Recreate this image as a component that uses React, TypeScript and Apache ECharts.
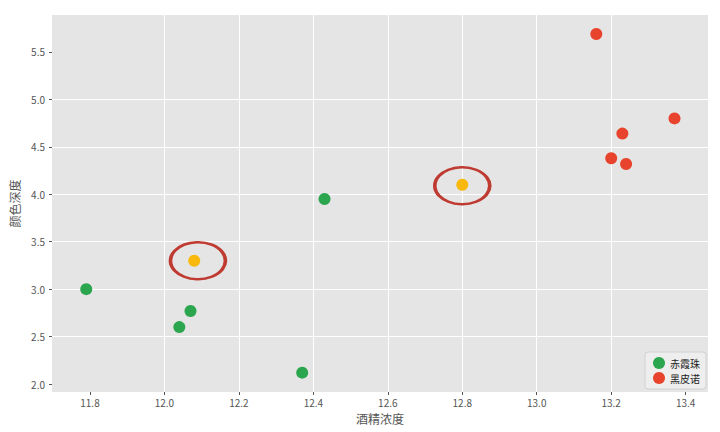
import React, { useEffect, useRef } from "react";
import * as echarts from "echarts";

const seriesNames = ["赤霞珠", "黑皮诺"];
const cabernetX = [11.79, 12.04, 12.07, 12.37, 12.43];
const cabernetY = [3.0, 2.6, 2.77, 2.12, 3.95];
const pinotX = [13.16, 13.23, 13.2, 13.24, 13.37];
const pinotY = [5.69, 4.64, 4.38, 4.32, 4.8];
const unknownX = [12.08, 12.8];
const unknownY = [3.3, 4.1];
const ringX = [12.09, 12.8];
const ringY = [3.3, 4.09];
const xTicks = [11.8, 12.0, 12.2, 12.4, 12.6, 12.8, 13.0, 13.2, 13.4];
const yTicks = [2.0, 2.5, 3.0, 3.5, 4.0, 4.5, 5.0, 5.5];
const xLabel = "酒精浓度";
const yLabel = "颜色深度";

const zip = (xs: number[], ys: number[]) => xs.map((x, i) => [x, ys[i]]);

const FONT = "'Noto Sans CJK SC', 'DejaVu Sans', sans-serif";

export default function App() {
  const ref = useRef<HTMLDivElement>(null);
  useEffect(() => {
    if (!ref.current) return;
    const chart = echarts.init(ref.current, undefined, { renderer: "svg" });
    const axisCommon = {
      type: "value" as const,
      nameLocation: "middle" as const,
      nameTextStyle: { color: "#555", fontSize: 12, fontFamily: FONT },
      axisLine: { show: false },
      splitLine: { show: true, showMinLine: false, showMaxLine: false, lineStyle: { color: "#ffffff", width: 1 } },
    };
    chart.setOption({
      animation: false,
      backgroundColor: "#ffffff",
      grid: {
        left: 48,
        right: 12,
        top: 15,
        bottom: 40,
        show: true,
        backgroundColor: "#e5e5e5",
        borderWidth: 0,
      },
      legend: {
        data: seriesNames,
        orient: "vertical",
        right: 14,
        bottom: 43,
        icon: "circle",
        itemWidth: 12,
        itemHeight: 12,
        itemGap: 3,
        padding: [5, 6, 5, 8],
        backgroundColor: "rgba(238,238,238,0.9)",
        borderColor: "#d0d0d0",
        borderWidth: 1,
        borderRadius: 3,
        textStyle: { color: "#222", fontSize: 10, fontFamily: FONT },
      },
      xAxis: {
        ...axisCommon,
        min: 11.698,
        max: 13.46,
        name: xLabel,
        nameGap: 20,
        axisTick: { show: true, customValues: xTicks, length: 3, lineStyle: { color: "#555" } },
        axisLabel: {
          customValues: xTicks,
          formatter: (v: number) => v.toFixed(1),
          color: "#555",
          fontSize: 10,
          fontFamily: FONT,
          margin: 5,
        },
      },
      yAxis: {
        ...axisCommon,
        min: 1.916,
        max: 5.89,
        name: yLabel,
        nameGap: 32,
        axisTick: { show: true, customValues: yTicks, length: 3, lineStyle: { color: "#555" } },
        axisLabel: {
          customValues: yTicks,
          formatter: (v: number) => v.toFixed(1),
          color: "#555",
          fontSize: 10,
          fontFamily: FONT,
          margin: 7,
        },
      },
      series: [
        {
          name: seriesNames[0],
          type: "scatter",
          symbol: "circle",
          symbolSize: 12,
          itemStyle: { color: "#2ca54f", opacity: 1 },
          data: zip(cabernetX, cabernetY),
        },
        {
          name: seriesNames[1],
          type: "scatter",
          symbol: "circle",
          symbolSize: 12,
          itemStyle: { color: "#e8432c", opacity: 1 },
          data: zip(pinotX, pinotY),
        },
        {
          name: "rings",
          type: "scatter",
          symbol: "circle",
          symbolSize: [55, 37],
          itemStyle: { color: "rgba(0,0,0,0)", borderColor: "#bf3a30", borderWidth: 3, opacity: 1 },
          data: zip(ringX, ringY),
          z: 3,
        },
        {
          name: "unknown",
          type: "scatter",
          symbol: "circle",
          symbolSize: 12,
          itemStyle: { color: "#f8b90c", opacity: 1 },
          data: zip(unknownX, unknownY),
          z: 4,
        },
      ],
    });
    return () => chart.dispose();
  }, []);
  return (
    <div
      ref={ref}
      style={{ position: "fixed", left: 0, top: 0, width: 720, height: 432, background: "#fff" }}
    />
  );
}
